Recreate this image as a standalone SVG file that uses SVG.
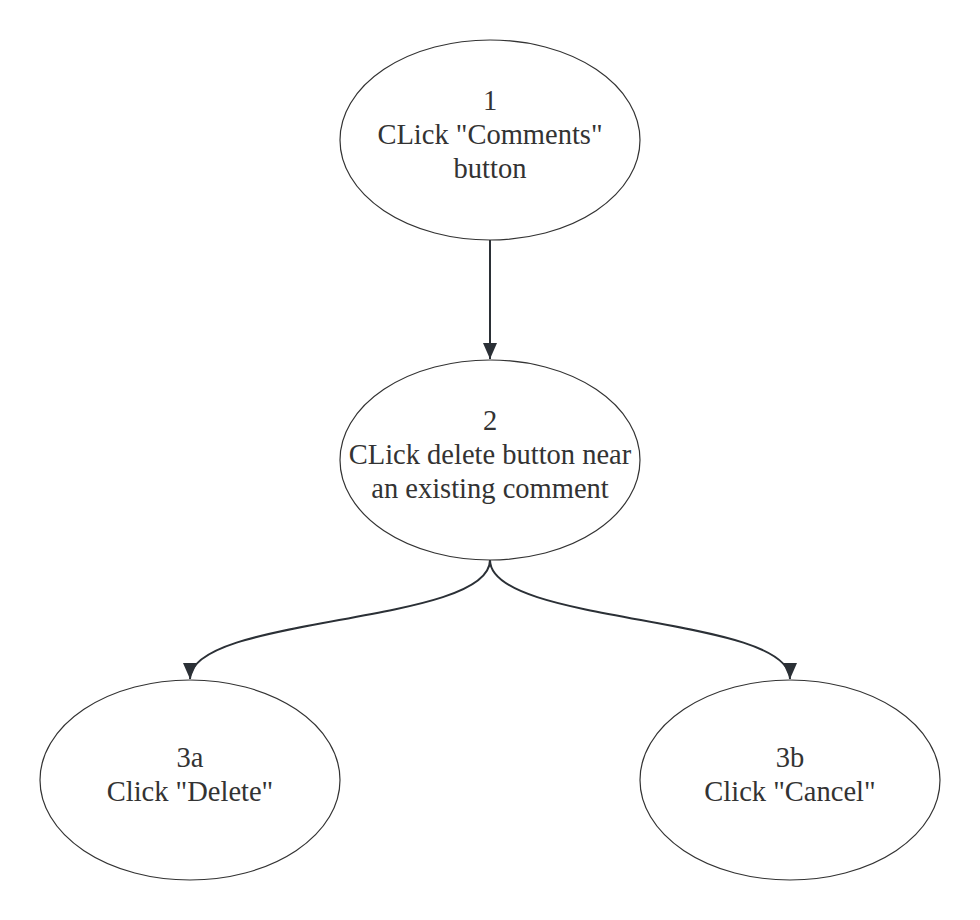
<svg xmlns="http://www.w3.org/2000/svg" width="980" height="920" viewBox="0 0 980 920">
<defs>
<marker id="arr" viewBox="0 0 16 14" refX="16" refY="7" markerWidth="16" markerHeight="14" markerUnits="userSpaceOnUse" orient="auto">
<path d="M0,0 L16,7 L0,14 Z" fill="#2b3036"/>
</marker>
</defs>
<rect width="980" height="920" fill="#ffffff"/>
<g id="connectors" fill="none" stroke="#2b3036" stroke-width="2">
<path d="M490,240 L490,359" marker-end="url(#arr)"/>
<path d="M490,560 C490,625 190,615 190,679" marker-end="url(#arr)"/>
<path d="M490,560 C490,625 790,615 790,679" marker-end="url(#arr)"/>
</g>
<g id="node1">
<ellipse cx="490" cy="140" rx="150" ry="100" fill="#ffffff" stroke="#333333" stroke-width="1.2"/>
<text x="490" y="110" text-anchor="middle" fill="#333333" font-family="Times New Roman" font-size="28.5">1</text>
<text x="490" y="144" text-anchor="middle" fill="#333333" font-family="Times New Roman" font-size="28.5">CLick "Comments"</text>
<text x="490" y="178" text-anchor="middle" fill="#333333" font-family="Times New Roman" font-size="28.5">button</text>
</g>
<g id="node2">
<ellipse cx="490" cy="460" rx="150" ry="100" fill="#ffffff" stroke="#333333" stroke-width="1.2"/>
<text x="490" y="430" text-anchor="middle" fill="#333333" font-family="Times New Roman" font-size="28.5">2</text>
<text x="490" y="464" text-anchor="middle" fill="#333333" font-family="Times New Roman" font-size="28.5">CLick delete button near</text>
<text x="490" y="498" text-anchor="middle" fill="#333333" font-family="Times New Roman" font-size="28.5">an existing comment</text>
</g>
<g id="node3a">
<ellipse cx="190" cy="780" rx="150" ry="100" fill="#ffffff" stroke="#333333" stroke-width="1.2"/>
<text x="190" y="767" text-anchor="middle" fill="#333333" font-family="Times New Roman" font-size="28.5">3a</text>
<text x="190" y="801" text-anchor="middle" fill="#333333" font-family="Times New Roman" font-size="28.5">Click "Delete"</text>
</g>
<g id="node3b">
<ellipse cx="790" cy="780" rx="150" ry="100" fill="#ffffff" stroke="#333333" stroke-width="1.2"/>
<text x="790" y="767" text-anchor="middle" fill="#333333" font-family="Times New Roman" font-size="28.5">3b</text>
<text x="790" y="801" text-anchor="middle" fill="#333333" font-family="Times New Roman" font-size="28.5">Click "Cancel"</text>
</g>
</svg>
